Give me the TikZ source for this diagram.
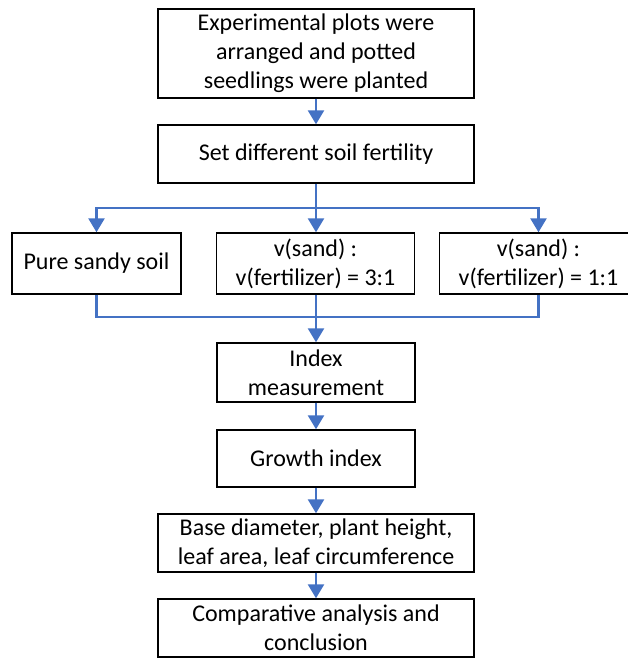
\documentclass[tikz,border=0pt]{standalone}
\usepackage{fontspec}
\setmainfont{Carlito}
\usetikzlibrary{positioning,arrows.meta}
\definecolor{linkblue}{HTML}{4472C4}
\tikzset{
  box/.style={draw=black,line width=1.4pt,fill=white,align=center,inner sep=0pt,
    font=\fontsize{24}{29}\selectfont},
  widebox/.style={box,minimum width=316pt,minimum height=58pt},
  midbox/.style={box,minimum width=198pt,minimum height=59pt},
  link/.style={draw=linkblue,line width=2.5pt},
  arr/.style={link,-{Triangle[width=16pt,length=14pt]}},
}
\begin{document}
\begin{tikzpicture}[x=1pt,y=-1pt]
\useasboundingbox (0,0) rectangle (627,658);
% top of the flow
\node[widebox,minimum height=89pt] (plots) at (316,53.5) {Experimental plots were\\arranged and potted\\seedlings were planted};
\node[widebox] (fert) at (316,154) {Set different soil fertility};
% three soil treatments
\node[box,minimum width=169pt,minimum height=61pt] (sandy) at (96.5,263.5) {Pure sandy soil};
\node[midbox,minimum height=61pt] (mix31) at (315.5,263.5) {v(sand) :\\v(fertilizer) = 3:1};
\node[midbox,minimum height=61pt] (mix11) at (538.5,263.5) {v(sand) :\\v(fertilizer) = 1:1};
% measurements
\node[midbox] (index) at (316,372.5) {Index\\measurement};
\node[midbox,minimum height=57pt] (growth) at (316,458.5) {Growth index};
\node[widebox] (base) at (316,543) {Base diameter, plant height,\\leaf area, leaf circumference};
\node[widebox] (concl) at (316,628) {Comparative analysis and\\conclusion};
\coordinate (split) at (316,208);
\coordinate (merge) at (316,317);
% connectors
\draw[arr] (plots) -- (fert);
\draw[link] (fert.south) -- (split);
\draw[arr] (split) -| (sandy.north);
\draw[arr] (split) -- (mix31.north -| split);
\draw[arr] (split) -| (mix11.north);
\draw[link] (sandy.south) |- (merge);
\draw[link] (mix11.south) |- (merge);
\draw[link] (mix31.south -| merge) -- (merge);
\draw[arr] (merge) -- (index.north);
\draw[arr] (index) -- (growth);
\draw[arr] (growth) -- (base);
\draw[arr] (base) -- (concl);
\end{tikzpicture}
\end{document}
